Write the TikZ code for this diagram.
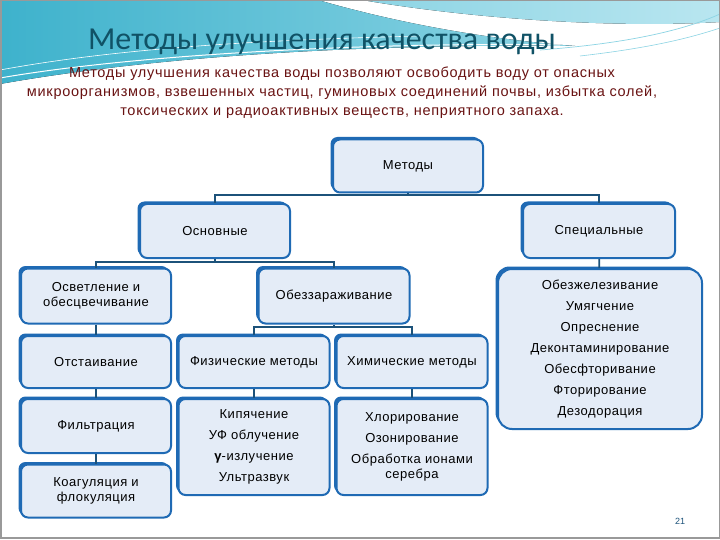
\documentclass[tikz,border=0pt]{standalone}
\usepackage{fontspec}
\setmainfont{Liberation Sans}
\newfontfamily\titlefont{Carlito}
\newfontfamily\widefont[LetterSpace=5]{Liberation Sans}
\newfontfamily\boxfont[LetterSpace=4]{Liberation Sans}
\usepackage{tikz}
\usetikzlibrary{positioning, shadows}
\definecolor{boxblue}{RGB}{31,106,180}
\definecolor{boxfill}{RGB}{228,236,247}
\definecolor{linkblue}{RGB}{28,82,122}
\definecolor{titleteal}{RGB}{16,82,102}
\definecolor{textred}{RGB}{105,18,18}
\definecolor{seablue}{RGB}{62,178,204}
\definecolor{seamid}{RGB}{140,212,228}
\definecolor{seapale}{RGB}{185,230,240}

\begin{document}
\begin{tikzpicture}[x=1pt, y=-1pt,
  block/.style={draw=boxblue, line width=2pt, fill=boxfill, rounded corners=7pt,
                inner sep=2pt, align=center, font=\boxfont\fontsize{13}{15}\selectfont,
                drop shadow={shadow xshift=-2.5pt, shadow yshift=2.5pt, fill=boxblue, opacity=1}},
  link/.style={draw=linkblue, line width=1.8pt}
]
\useasboundingbox (0,0) rectangle (720,540);
\fill[white] (0,0) rectangle (720,540);
% header waves
\fill[left color=seablue, right color=seamid] (0,0) -- (318,0)
  .. controls (380,18) and (470,38) .. (575,46) .. controls (400,44) and (180,52) .. (0,84) -- cycle;
\fill[left color=seamid, right color=seapale] (362,0) -- (720,0) -- (720,22)
  .. controls (620,28) and (480,20) .. (362,0) -- cycle;
\draw[white, line width=1pt] (0,78) .. controls (150,52) and (400,42) .. (560,45);
\draw[white, line width=.6pt] (0,70) .. controls (120,48) and (260,40) .. (420,36);
\draw[seamid, line width=.7pt] (540,50) .. controls (620,44) and (680,32) .. (720,14);
\draw[seamid, line width=.6pt] (580,56) .. controls (650,48) and (690,38) .. (720,28);
\draw[gray!80, line width=1.5pt] (0.75,0.75) rectangle (719.25,538);

\node[anchor=base, font=\titlefont\fontsize{32}{34}\selectfont, text=titleteal] (title) at (322,50)
  {Методы улучшения качества воды};
\node[text=textred, align=center, font=\widefont\fontsize{14.5}{19}\selectfont] (intro) at (342,93)
  {Методы улучшения качества воды позволяют освободить воду от опасных\\
   микроорганизмов, взвешенных частиц, гуминовых соединений почвы, избытка солей,\\
   токсических и радиоактивных веществ, неприятного запаха.};

% tree
\node[block, minimum width=150pt, minimum height=53pt] (met) at (408,166) {Методы};
\node[block, minimum width=150pt, minimum height=54pt] (osn) at (215,231) {Основные};
\node[block, minimum width=152pt, minimum height=54pt] (spec) at (599,231) {Специальные};
\node[block, minimum width=150pt, minimum height=55pt] (osv) at (96,296) {Осветление и\\обесцвечивание};
\node[block, minimum width=151pt, minimum height=55pt] (obez) at (334,296) {Обеззараживание};
\node[block, minimum width=204pt, minimum height=160pt, rounded corners=14pt] (spl) at (600,349)
  {Обезжелезивание\\[6pt]Умягчение\\[6pt]Опреснение\\[6pt]Деконтаминирование\\[6pt]Обесфторивание\\[6pt]Фторирование\\[6pt]Дезодорация};
\node[block, minimum width=150pt, minimum height=52pt] (otst) at (96,362) {Отстаивание};
\node[block, minimum width=151pt, minimum height=52pt] (fiz) at (254,362) {Физические методы};
\node[block, minimum width=151pt, minimum height=52pt] (him) at (412,362) {Химические методы};
\node[block, minimum width=150pt, minimum height=54pt] (filt) at (96,426) {Фильтрация};
\node[block, minimum width=151pt, minimum height=96pt] (fizl) at (254,447)
  {Кипячение\\[6pt]УФ облучение\\[6pt]{\bfseries γ}-излучение\\[6pt]Ультразвук};
\node[block, minimum width=151pt, minimum height=96pt] (himl) at (412,447)
  {Хлорирование\\[6pt]Озонирование\\[6pt]Обработка ионами\\серебра};
\node[block, minimum width=150pt, minimum height=53pt] (koag) at (96,491) {Коагуляция и\\флокуляция};

\coordinate (bus1) at (408,195);
\coordinate (bus2) at (215,262);
\coordinate (bus3) at (334,327);
\draw[link] (met.south) -- (bus1);
\draw[link] (osn.north) |- (bus1) -| (spec.north);
\draw[link] (osn.south) -- (bus2);
\draw[link] (osv.north) |- (bus2) -| (obez.north);
\draw[link] (obez.south) -- (bus3);
\draw[link] (fiz.north) |- (bus3) -| (him.north);
\draw[link] (spec) -- (spl);
\draw[link] (osv) -- (otst);
\draw[link] (otst) -- (filt);
\draw[link] (filt) -- (koag);
\draw[link] (fiz) -- (fizl);
\draw[link] (him) -- (himl);

\node[font=\fontsize{9}{9}\selectfont, text=linkblue] (pagenum) at (680,521) {21};
\end{tikzpicture}
\end{document}
